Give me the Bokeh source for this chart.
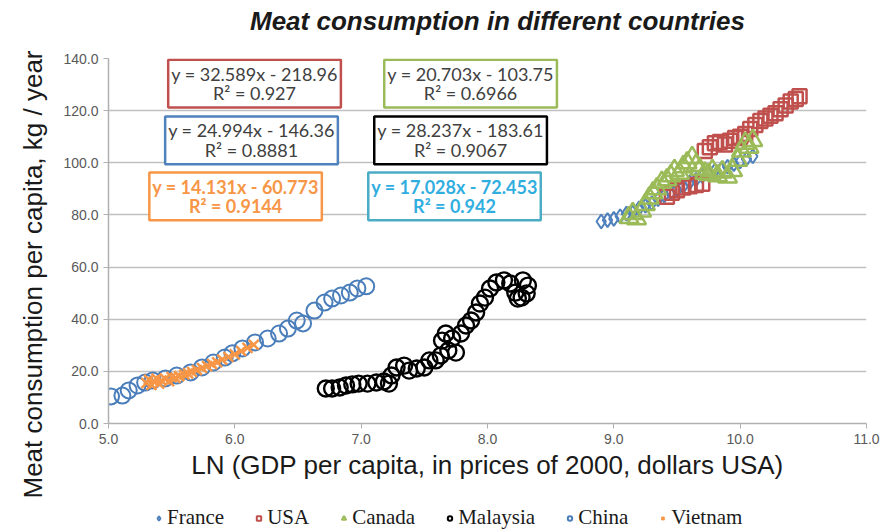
from bokeh.plotting import figure
from bokeh.layouts import column
from bokeh.models import (Label, Legend, LegendItem, Range1d, SingleIntervalTicker,
                          NumeralTickFormatter, Title)
from bokeh.embed import file_html
from bokeh.resources import INLINE

# ---------------- data ----------------
france_x = [8.90, 8.95, 9.00, 9.05, 9.10, 9.15, 9.20, 9.25, 9.30, 9.35, 9.40, 9.45, 9.50,
            9.55, 9.60, 9.65, 9.70, 9.75, 9.80, 9.85, 9.90, 9.95, 10.00, 10.05, 10.10]
france_y = [77.5, 78.0, 78.5, 79.5, 80.5, 81.0, 82.5, 83.5, 84.5, 86.0, 87.5, 88.5, 89.5,
            91.0, 92.5, 93.5, 95.0, 96.0, 97.0, 97.5, 98.5, 99.5, 100.5, 101.5, 102.5]

usa_x = [9.42, 9.46, 9.50, 9.55, 9.60, 9.65, 9.70, 9.72, 9.76, 9.80, 9.84, 9.88, 9.92, 9.96,
         10.00, 10.04, 10.08, 10.12, 10.16, 10.20, 10.24, 10.28, 10.32, 10.36, 10.40, 10.44, 10.47]
usa_y = [87.0, 88.5, 89.5, 90.5, 91.0, 91.5, 92.0, 104.5, 106.0, 107.5, 108.0, 107.0, 108.5, 109.5,
         110.0, 111.0, 113.0, 114.5, 116.0, 117.0, 118.0, 119.0, 120.5, 122.0, 123.5, 124.5, 125.5]

canada_x = [9.12, 9.15, 9.18, 9.22, 9.25, 9.28, 9.31, 9.34, 9.38, 9.42, 9.45, 9.48, 9.52, 9.55,
            9.58, 9.62, 9.65, 9.68, 9.72, 9.75, 9.78, 9.82, 9.86, 9.90, 9.94, 9.98, 10.01, 10.04,
            10.07, 10.10]
canada_y = [79.0, 80.5, 78.5, 81.5, 84.0, 86.5, 88.5, 90.0, 92.5, 93.5, 95.0, 97.0, 96.0, 98.5,
            100.0, 102.0, 99.0, 97.5, 96.0, 95.5, 97.0, 95.0, 96.5, 94.5, 97.0, 101.0, 104.5, 107.5,
            106.0, 108.5]

malaysia_x = [6.72, 6.77, 6.83, 6.88, 6.93, 6.98, 7.05, 7.12, 7.18, 7.22, 7.24, 7.28, 7.34, 7.38,
              7.44, 7.50, 7.54, 7.59, 7.63, 7.64, 7.67, 7.69, 7.72, 7.75, 7.79, 7.83, 7.87, 7.91,
              7.94, 7.98, 8.02, 8.07, 8.13, 8.18, 8.22, 8.24, 8.28, 8.31, 8.32, 8.27]
malaysia_y = [13.4, 13.4, 13.8, 14.6, 15.0, 15.3, 15.3, 15.7, 16.1, 15.3, 18.4, 21.5, 22.2, 20.3,
              21.1, 21.5, 24.2, 24.2, 26.1, 31.8, 34.5, 28.0, 32.6, 27.2, 34.5, 37.6, 39.5, 42.6,
              46.0, 48.3, 51.8, 54.1, 54.9, 53.7, 50.2, 47.9, 54.9, 49.9, 52.9, 48.3]

china_x = [5.02, 5.11, 5.16, 5.23, 5.29, 5.35, 5.45, 5.54, 5.65, 5.74, 5.83, 5.92, 5.98, 6.06,
           6.16, 6.26, 6.35, 6.42, 6.49, 6.54, 6.63, 6.71, 6.77, 6.84, 6.91, 6.97, 7.04]
china_y = [10.4, 10.7, 12.7, 14.6, 15.7, 16.5, 17.3, 18.4, 19.6, 21.5, 23.4, 25.3, 26.9, 28.8,
           31.1, 32.6, 34.5, 36.4, 39.5, 38.4, 43.3, 46.4, 47.9, 49.1, 50.2, 51.8, 52.6]

vietnam_x = [5.30, 5.32, 5.34, 5.36, 5.38, 5.40, 5.42, 5.45, 5.48, 5.50, 5.53, 5.56, 5.60, 5.63,
             5.66, 5.70, 5.74, 5.78, 5.82, 5.86, 5.90, 5.95, 6.00, 6.05, 6.10, 6.15]
vietnam_y = [15.5, 16.8, 14.8, 16.0, 17.2, 15.3, 16.5, 17.0, 16.2, 17.8, 17.5, 18.2, 18.8, 19.2,
             19.8, 20.5, 21.3, 22.0, 22.8, 23.5, 24.5, 25.5, 26.5, 27.8, 29.0, 30.2]

countries = ["France", "USA", "Canada", "Malaysia", "China", "Vietnam"]
equations = ["y = 32.589x - 218.96\nR² = 0.927",
             "y = 20.703x - 103.75\nR² = 0.6966",
             "y = 24.994x - 146.36\nR² = 0.8881",
             "y = 28.237x - 183.61\nR² = 0.9067",
             "y = 14.131x - 60.773\nR² = 0.9144",
             "y = 17.028x - 72.453\nR² = 0.942"]

# ---------------- title strip ----------------
tt = figure(width=886, height=40, output_backend="svg", toolbar_location=None,
            x_range=Range1d(0, 758), y_range=Range1d(0, 40),
            x_axis_location=None, y_axis_location=None, title=None,
            min_border_left=108, min_border_right=20, min_border_top=0, min_border_bottom=0)
tt.outline_line_color = None
tt.grid.visible = False
tt.add_layout(Label(x=389, y=20, text="Meat consumption in different countries",
                    text_align="center", text_baseline="middle",
                    text_font="Liberation Sans", text_font_size="26px",
                    text_font_style="bold italic", text_color="#1a1a1a"))

# ---------------- main figure ----------------
p = figure(width=886, height=460, output_backend="svg", toolbar_location=None,
           x_range=Range1d(5, 11), y_range=Range1d(0, 140), title=None,
           min_border_left=108, min_border_right=20, min_border_top=18, min_border_bottom=77)
p.outline_line_color = None
p.xgrid.visible = False
p.ygrid.grid_line_color = "#c0c0c0"
p.ygrid.grid_line_width = 1.5

p.xaxis.ticker = SingleIntervalTicker(interval=1)
p.yaxis.ticker = SingleIntervalTicker(interval=20)
p.xaxis.formatter = NumeralTickFormatter(format="0.0")
p.yaxis.formatter = NumeralTickFormatter(format="0.0")
for ax in (p.xaxis[0], p.yaxis[0]):
    ax.axis_line_color = "#b0b0b0"
    ax.axis_line_width = 1.5
    ax.major_tick_line_color = "#b0b0b0"
    ax.major_tick_in = 0
    ax.major_tick_out = 5
    ax.minor_tick_line_color = None
    ax.major_label_text_font = "Liberation Sans"
    ax.major_label_text_font_size = "14px"
    ax.major_label_text_color = "#595959"
p.xaxis.axis_label = "LN (GDP per capita, in prices of 2000, dollars USA)"
p.xaxis.axis_label_text_font = "Liberation Sans"
p.xaxis.axis_label_text_font_size = "26px"
p.xaxis.axis_label_text_font_style = "normal"
p.xaxis.axis_label_text_color = "#1a1a1a"
p.xaxis.axis_label_standoff = 3

ytitle = Title(text="Meat consumption per capita, kg / year", align="left", offset=-75,
               standoff=25, text_font="Liberation Sans", text_font_size="26px",
               text_font_style="normal", text_color="#1a1a1a")
p.add_layout(ytitle, "left")

# series
p.scatter(france_x, france_y, marker="diamond", size=14, line_color="#4f81bd",
          fill_color=None, line_width=2)
p.scatter(usa_x, usa_y, marker="square", size=14, line_color="#c0504d",
          fill_color=None, line_width=2.5)
p.scatter(canada_x, canada_y, marker="triangle", size=19, line_color="#9bbb59",
          fill_color=None, line_width=2.5)
p.scatter(malaysia_x, malaysia_y, marker="circle", size=16, line_color="black",
          fill_color=None, line_width=2.4)
p.scatter(china_x, china_y, marker="circle", size=16, line_color="#4a7ebb",
          fill_color=None, line_width=2)
p.scatter(vietnam_x, vietnam_y, marker="x", size=14, line_color="#f79646",
          line_width=2.5)

# equation boxes
box_styles = [
    (6.156, 130.4, "#c0504d", "#404040", "normal"),
    (7.866, 130.4, "#9bbb59", "#404040", "normal"),
    (6.132, 108.6, "#4f81bd", "#404040", "normal"),
    (7.787, 108.6, "#000000", "#404040", "normal"),
    (6.006, 87.1, "#f79646", "#f79646", "bold"),
    (7.739, 87.1, "#4bacc6", "#31aee0", "bold"),
]
for txt, (bx, by, bc, tc, fs) in zip(equations, box_styles):
    p.add_layout(Label(x=bx, y=by, text=txt, text_align="center", text_baseline="middle",
                       text_font="Lato", text_font_size="18px", text_color=tc,
                       text_font_style=fs, text_line_height=0.9,
                       background_fill_color="white", border_line_color=bc,
                       border_line_width=2.5, padding=3))

# ---------------- legend strip ----------------
lg = figure(width=886, height=32, output_backend="svg", toolbar_location=None,
            x_range=Range1d(0, 1), y_range=Range1d(0, 1), title=None,
            x_axis_location=None, y_axis_location=None,
            min_border_left=108, min_border_right=20, min_border_top=0, min_border_bottom=0)
lg.outline_line_color = None
lg.grid.visible = False
legend_specs = [("diamond", "#4f81bd"), ("square", "#c0504d"), ("triangle", "#9bbb59"),
                ("circle", "black"), ("circle", "#4a7ebb"), ("x", "#f79646")]
items = []
for name, (mk, col) in zip(countries, legend_specs):
    r = lg.scatter(x=[-5], y=[-5], marker=mk, size=11, line_color=col,
                   fill_color=None, line_width=2)
    items.append(LegendItem(label=name, renderers=[r]))
legend = Legend(items=items, orientation="horizontal", location=(45, 2),
                label_text_font="Liberation Serif", label_text_font_size="21px",
                label_text_color="#1a1a1a",
                glyph_width=11, glyph_height=16, label_standoff=3, spacing=29,
                border_line_color=None, padding=0, margin=0, background_fill_alpha=0)
lg.add_layout(legend, "center")

open("out.html", "w").write(file_html(column(tt, p, lg), INLINE))
